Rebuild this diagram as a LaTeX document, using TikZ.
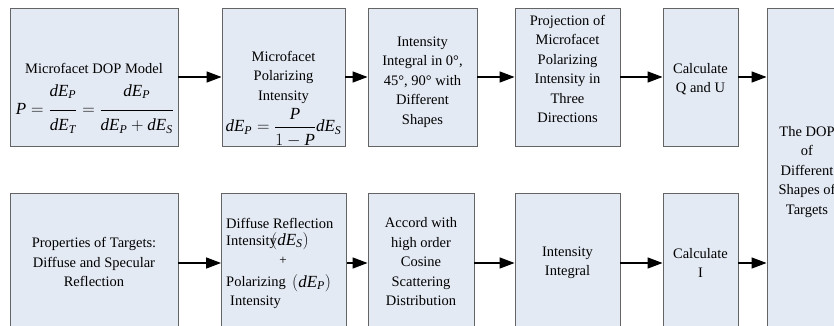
\documentclass[tikz,border=0pt]{standalone}
\usepackage{amsmath}
\usepackage{fontspec}
\setmainfont{Liberation Serif}
\usetikzlibrary{arrows.meta}
\definecolor{boxfill}{RGB}{228,234,244}
\definecolor{boxline}{RGB}{100,100,100}
\newcommand{\mi}[1]{\mathit{#1}}
\newcommand{\dEx}[1]{\mathit{dE}_{\mathit{#1}}}
\begin{document}
\begin{tikzpicture}[x=1pt,y=-1pt,
  box/.style={draw=boxline,fill=boxfill,line width=0.9pt,inner sep=0pt},
  lbl/.style={font=\fontsize{14.5}{19.5}\selectfont,align=center,inner sep=0pt},
  lbll/.style={font=\fontsize{14.5}{19.5}\selectfont,inner sep=0pt,anchor=west},
  mth/.style={font=\fontsize{17}{20}\selectfont,inner sep=0pt},
  arr/.style={line width=1.4pt,-{Triangle[length=15pt,width=11pt]}}]
\useasboundingbox (0,0) rectangle (834,326);
\clip (0,0) rectangle (834,326);
% top row boxes
\node[box,minimum width=168pt,minimum height=138pt] (t1) at (94,77) {};
\node[box,minimum width=123pt,minimum height=138pt] (t2) at (283.5,77) {};
\node[box,minimum width=109pt,minimum height=138pt] (t3) at (422.5,77) {};
\node[box,minimum width=105pt,minimum height=138pt] (t4) at (567.5,77) {};
\node[box,minimum width=75pt,minimum height=138pt] (t5) at (700.5,77) {};
% right box
\node[box,minimum width=84pt,minimum height=334pt] (r6) at (809,175) {};
% bottom row boxes
\node[box,minimum width=168pt,minimum height=140pt] (u1) at (94,263) {};
\node[box,minimum width=125pt,minimum height=140pt] (u2) at (284,263) {};
\node[box,minimum width=106pt,minimum height=140pt] (u3) at (421,263) {};
\node[box,minimum width=105pt,minimum height=140pt] (u4) at (567.5,263) {};
\node[box,minimum width=75pt,minimum height=140pt] (u5) at (700.5,263) {};
% arrows
\draw[arr] (t1) -- (t2);
\draw[arr] (t2) -- (t3);
\draw[arr] (t3) -- (t4);
\draw[arr] (t4) -- (t5);
\draw[arr] (t5.east) -- (t5.east -| r6.west);
\draw[arr] (u1) -- (u2);
\draw[arr] (u2) -- (u3);
\draw[arr] (u3) -- (u4);
\draw[arr] (u4) -- (u5);
\draw[arr] (u5.east) -- (u5.east -| r6.west);
% top texts
\node[lbl] (t1a) at (94,68) {Microfacet DOP Model};
\node[mth] (t1b) at (95,109) {$\mi{P}=\dfrac{\rule[-12pt]{0pt}{12pt}\dEx{P}}{\rule{0pt}{18pt}\dEx{T}}=\dfrac{\rule[-12pt]{0pt}{12pt}\dEx{P}}{\rule{0pt}{18pt}\dEx{P}+\dEx{S}}$};
\node[lbl] (t2a) at (283.5,77) {Microfacet\\Polarizing\\Intensity};
\node[mth] (t2b) at (283.5,128) {$\dEx{P}=\dfrac{\rule[-1pt]{0pt}{1pt}\mi{P}}{\rule{0pt}{16pt}1-\mi{P}}\dEx{S}$};
\node[lbl] (t3a) at (422.5,82) {Intensity\\Integral in 0°,\\45°, 90° with\\Different\\Shapes};
\node[lbl] (t4a) at (567.5,69) {Projection of\\Microfacet\\Polarizing\\Intensity in\\Three\\Directions};
\node[lbl] (t5a) at (700.5,79) {Calculate\\Q and U};
\node[lbl] (r6a) at (807,172) {The DOP\\of\\Different\\Shapes of\\Targets};
% bottom texts
\node[lbl] (u1a) at (94,262) {Properties of Targets:\\Diffuse and Specular\\Reflection};
\node[lbll] (u2a) at (226,223) {Diffuse Reflection};
\node[lbll] (u2b) at (226,242) {Intensity};
\node[mth,anchor=west] (u2c) at (271,241) {$(\dEx{S})$};
\node[lbl,font=\fontsize{13}{14}\selectfont] (u2d) at (283,261) {+};
\node[lbll] (u2e) at (226,283) {Polarizing};
\node[mth,anchor=west] (u2f) at (292,283) {$(\dEx{P})$};
\node[lbll] (u2g) at (230,302) {Intensity};
\node[lbl] (u3a) at (421,262) {Accord with\\high order\\Cosine\\Scattering\\Distribution};
\node[lbl] (u4a) at (567.5,263) {Intensity\\Integral};
\node[lbl] (u5a) at (700.5,263) {Calculate\\I};
\end{tikzpicture}
\end{document}
